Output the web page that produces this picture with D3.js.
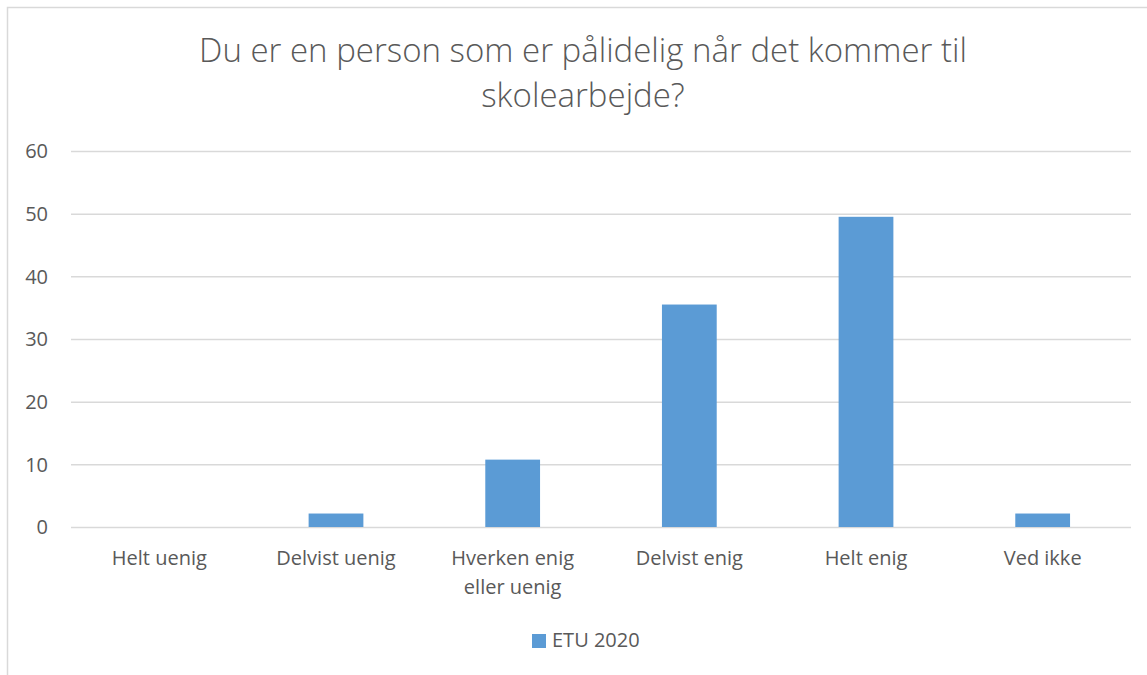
<!DOCTYPE html>
<html>
<head>
<meta charset="utf-8">
<script src="https://cdn.jsdelivr.net/npm/d3@7"></script>
<style>
  body { margin: 0; background: #fff; }
  text { font-family: "Open Sans", sans-serif; fill: #595959; }
</style>
</head>
<body>
<div class="chart"></div>
<script>
var width = 1147,
  height = 675

// data
var categories = [['Helt uenig'], ['Delvist uenig'], ['Hverken enig', 'eller uenig'], ['Delvist enig'], ['Helt enig'], ['Ved ikke']]
var values = [0, 2.15, 10.75, 35.5, 49.5, 2.15]
var yTicks = [0, 10, 20, 30, 40, 50, 60]
var seriesName = 'ETU 2020'
var titleLines = ['Du er en person som er pålidelig når det kommer til', 'skolearbejde?']

var svg = d3.select('.chart')
  .append('svg')
  .attr('width', width)
  .attr('height', height)

// outer frame
svg.append('rect')
  .attr('x', 7.5).attr('y', 7.5)
  .attr('width', width + 20).attr('height', height + 20)
  .attr('fill', 'none')
  .attr('stroke', '#d9d9d9')
  .attr('stroke-width', 1.5)

var plotLeft = 71, plotRight = 1131, plotTop = 151, plotBottom = 527

var xScale = d3.scaleBand()
  .domain(d3.range(categories.length))
  .range([plotLeft, plotRight])
  .paddingInner(0.69)
  .paddingOuter(0.345)

var yScale = d3.scaleLinear()
  .domain([0, 60])
  .range([plotBottom, plotTop])

// gridlines
svg.append('g').selectAll('line')
  .data(yTicks)
  .enter()
  .append('line')
  .attr('x1', plotLeft).attr('x2', plotRight)
  .attr('y1', function(d) { return yScale(d) + 0.5 })
  .attr('y2', function(d) { return yScale(d) + 0.5 })
  .attr('stroke', '#d9d9d9')
  .attr('stroke-width', 1.5)

// y labels
svg.append('g').selectAll('text')
  .data(yTicks)
  .enter()
  .append('text')
  .attr('x', 48)
  .attr('y', function(d) { return yScale(d) })
  .attr('dy', '0.36em')
  .attr('text-anchor', 'end')
  .style('font-size', '20px')
  .text(function(d) { return d })

// bars
svg.append('g').selectAll('rect')
  .data(values)
  .enter()
  .append('rect')
  .attr('x', function(d, i) { return xScale(i) })
  .attr('y', function(d) { return yScale(d) })
  .attr('width', xScale.bandwidth())
  .attr('height', function(d) { return yScale(0) - yScale(d) })
  .attr('fill', '#5b9bd5')

// category labels
var cat = svg.append('g').selectAll('text')
  .data(categories)
  .enter()
  .append('text')
  .attr('text-anchor', 'middle')
  .style('font-size', '20px')
  .attr('transform', function(d, i) { return 'translate(' + (xScale(i) + xScale.bandwidth() / 2) + ',565)' })

cat.selectAll('tspan')
  .data(function(d) { return d })
  .enter()
  .append('tspan')
  .attr('x', 0)
  .attr('y', function(d, i) { return i * 29 })
  .text(function(d) { return d })

// title
svg.append('g').selectAll('text')
  .data(titleLines)
  .enter()
  .append('text')
  .attr('x', 583)
  .attr('y', function(d, i) { return 62 + i * 45 })
  .attr('text-anchor', 'middle')
  .style('font-size', '33px')
  .style('font-weight', 300)
  .text(function(d) { return d })

// legend
svg.append('rect')
  .attr('x', 532).attr('y', 634)
  .attr('width', 14).attr('height', 14)
  .attr('fill', '#5b9bd5')

svg.append('text')
  .attr('x', 552).attr('y', 647)
  .style('font-size', '20px')
  .text(seriesName)
</script>
</body>
</html>
